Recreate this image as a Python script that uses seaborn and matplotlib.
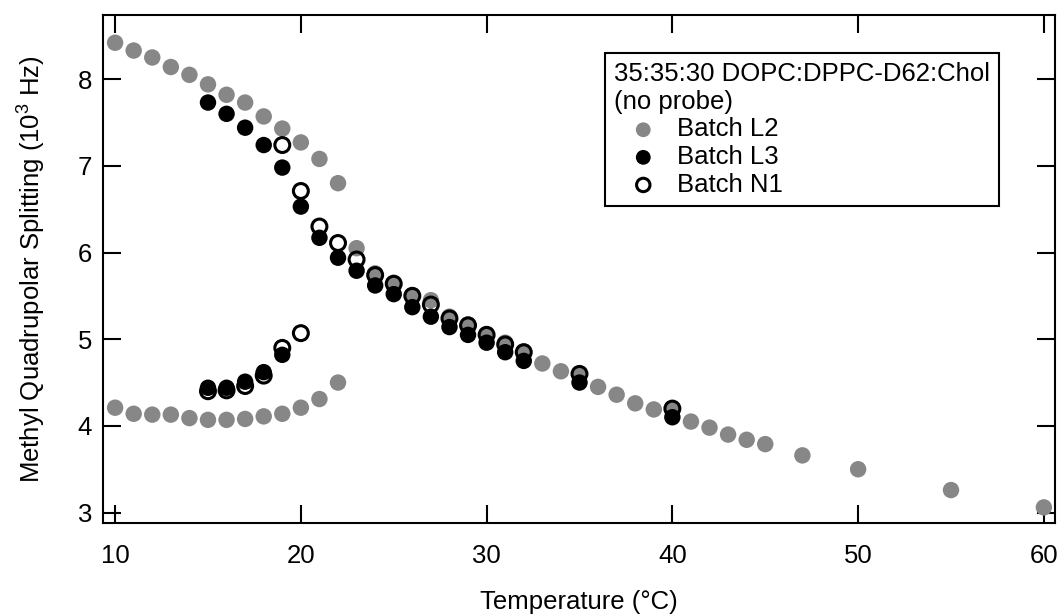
import matplotlib
matplotlib.use('Agg')
import matplotlib.pyplot as plt
import seaborn as sns
import numpy as np

# Batch L2 (gray): upper branch, lower branch, merged high-T branch
l2_temp = [10, 11, 12, 13, 14, 15, 16, 17, 18, 19, 20, 21, 22,
           10, 11, 12, 13, 14, 15, 16, 17, 18, 19, 20, 21, 22,
           23, 24, 25, 26, 27, 28, 29, 30, 31, 32, 33, 34, 35, 36, 37, 38, 39,
           40, 41, 42, 43, 44, 45, 47, 50, 55, 60]
l2_split = [8.42, 8.33, 8.25, 8.14, 8.05, 7.94, 7.82, 7.73, 7.57, 7.43, 7.27, 7.08, 6.80,
            4.21, 4.14, 4.13, 4.13, 4.09, 4.07, 4.07, 4.08, 4.11, 4.14, 4.21, 4.31, 4.50,
            6.05, 5.76, 5.65, 5.51, 5.45, 5.26, 5.17, 5.06, 4.96, 4.86, 4.72, 4.63, 4.60, 4.45, 4.36, 4.26, 4.19,
            4.18, 4.05, 3.98, 3.90, 3.84, 3.79, 3.66, 3.50, 3.26, 3.06]

# Batch L3 (black filled)
l3_temp = [15, 16, 17, 18, 19, 20, 21, 22, 23, 24, 25, 26, 27, 28, 29, 30, 31, 32, 35, 40,
           15, 16, 17, 18, 19]
l3_split = [7.73, 7.60, 7.44, 7.24, 6.98, 6.53, 6.17, 5.94, 5.79, 5.62, 5.52, 5.37, 5.26, 5.14,
            5.05, 4.96, 4.85, 4.75, 4.50, 4.10,
            4.44, 4.44, 4.51, 4.62, 4.82]

# Batch N1 (open circles)
n1_temp = [19, 20, 21, 22, 23, 24, 25, 26, 27, 28, 29, 30, 31, 32, 35, 40,
           15, 16, 17, 18, 19, 20]
n1_split = [7.24, 6.71, 6.30, 6.11, 5.92, 5.74, 5.64, 5.50, 5.40, 5.24, 5.16, 5.05, 4.94, 4.85,
            4.60, 4.20,
            4.40, 4.41, 4.46, 4.58, 4.90, 5.07]

sns.set_theme(style='ticks')
plt.rcParams['font.family'] = ['Liberation Sans', 'DejaVu Sans']
plt.rcParams['mathtext.fontset'] = 'custom'
plt.rcParams['mathtext.rm'] = 'Liberation Sans'
plt.rcParams['mathtext.it'] = 'Liberation Sans:italic'
plt.rcParams['text.color'] = 'black'
plt.rcParams['axes.labelcolor'] = 'black'
plt.rcParams['xtick.color'] = 'black'
plt.rcParams['ytick.color'] = 'black'

fs = 18.5

fig = plt.figure(figsize=(10.6, 6.15), dpi=100)
ax = fig.add_axes([0.0972, 0.1496, 0.8981, 0.826])

msize = 140
sns.scatterplot(x=l2_temp, y=l2_split, color='#878787', s=msize, edgecolor='none',
                label='Batch L2', ax=ax, zorder=3)
sns.scatterplot(x=l3_temp, y=l3_split, color='black', s=msize, edgecolor='none',
                label='Batch L3', ax=ax, zorder=4)
sns.scatterplot(x=n1_temp, y=n1_split, facecolors='none', edgecolor='black', s=115,
                linewidth=2.2, label='Batch N1', ax=ax, zorder=5)

ax.set_xlim(9.35, 60.6)
ax.set_ylim(2.88, 8.74)
ax.set_xticks([10, 20, 30, 40, 50, 60])
ax.set_yticks([3, 4, 5, 6, 7, 8])

for s in ax.spines.values():
    s.set_visible(True)
    s.set_linewidth(1.5)
    s.set_color('black')

ax.tick_params(axis='both', direction='in', length=13, width=1.5, color='black',
               labelsize=fs, labelcolor='black', top=True, right=True)
ax.tick_params(axis='x', pad=15)
ax.tick_params(axis='y', pad=8)

ax.set_xlabel('Temperature (°C)', fontsize=fs, labelpad=16)
ax.set_ylabel(r'Methyl Quadrupolar Splitting (10$^{\mathrm{3}}$ Hz)', fontsize=fs,
              labelpad=21)

leg = ax.legend(title='35:35:30 DOPC:DPPC-D62:Chol\n(no probe)', loc='upper left',
                bbox_to_anchor=(0.527, 0.925), borderaxespad=0, fontsize=fs,
                title_fontsize=fs, frameon=True, fancybox=False, framealpha=1,
                edgecolor='black', borderpad=0.35, labelspacing=0.14,
                handlelength=2.3, handletextpad=0.15, markerscale=0.9,
                alignment='left')
leg.get_frame().set_linewidth(1.5)
leg.get_title().set_linespacing(1.2)

fig.savefig('out.png', dpi=100)
